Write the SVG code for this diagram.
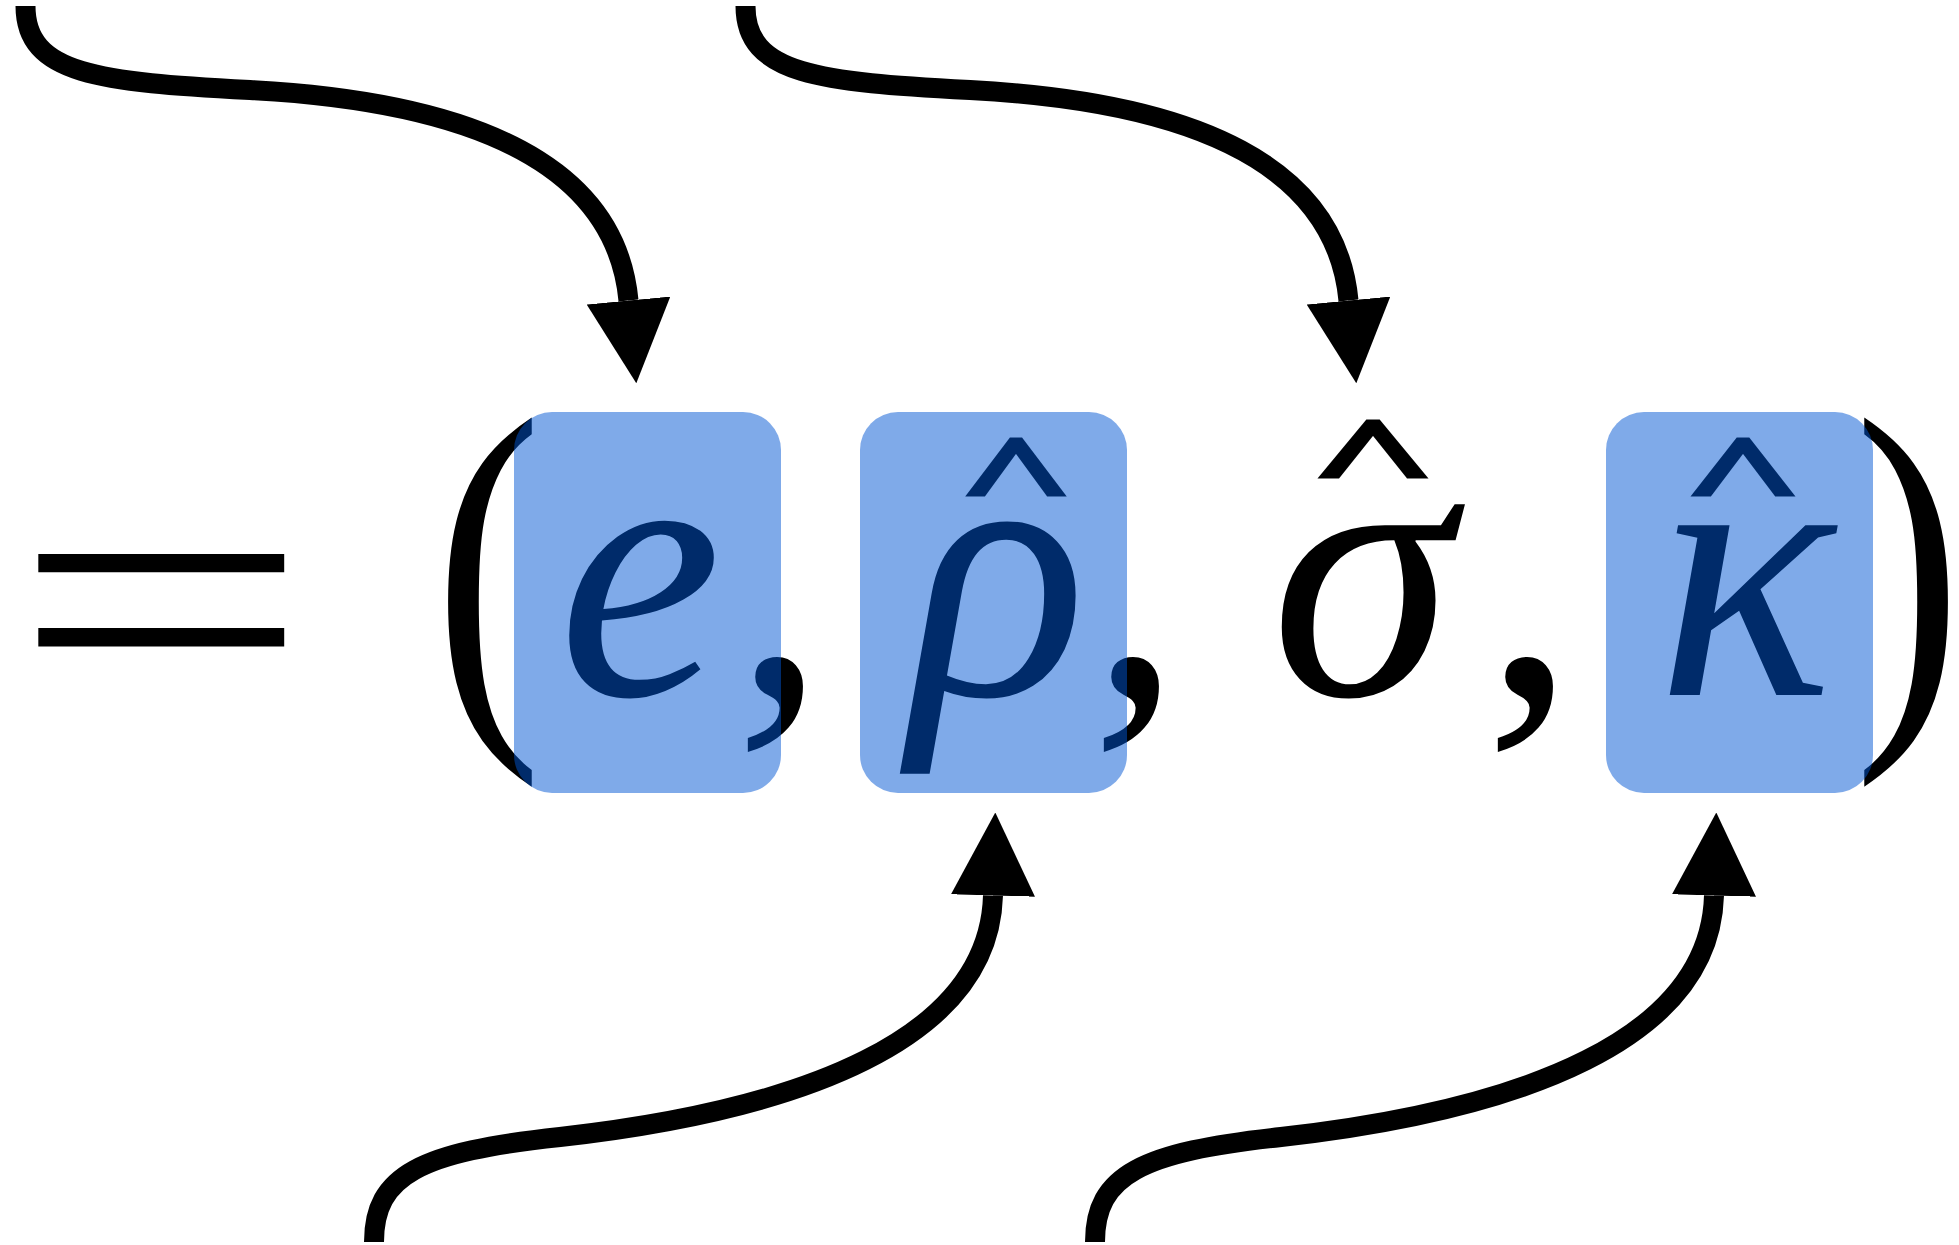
<svg xmlns="http://www.w3.org/2000/svg" width="1959" height="1245" viewBox="0 0 1959 1245">
<style>
.bg{fill:#ffffff}
.m{font-family:"Liberation Serif","Times New Roman",serif;font-size:370px;fill:#000;text-anchor:middle}
.it{font-style:italic}
.par{font-family:"Liberation Serif","Times New Roman",serif;font-size:407px;fill:#000;text-anchor:middle}
.hat{font-family:"Liberation Serif","Times New Roman",serif;font-size:121px;font-style:normal;font-weight:bold;fill:#000;stroke:#000;stroke-width:3;text-anchor:middle}
.box{fill:#0055d4;fill-opacity:0.5}
.arr{fill:none;stroke:#000;stroke-width:20;stroke-linecap:butt}
</style>
<defs>
<marker id="head" viewBox="0 0 83 84" refX="0" refY="42" markerWidth="83" markerHeight="84" markerUnits="userSpaceOnUse" orient="auto">
<path d="M0,0 L83,42 L0,84 z" fill="#000"/>
</marker>
</defs>
<rect class="bg" x="0" y="0" width="1959" height="1245"/>
<g id="connectors">
<path class="arr" marker-end="url(#head)" d="M25.5,6 C25.5,75 100,82 250,90 C480,102 616,168 628.5,300.5"/>
<path class="arr" marker-end="url(#head)" d="M745.5,6 C745.5,75 820,82 970,90 C1200,102 1336,168 1348.5,300.5"/>
<path class="arr" marker-end="url(#head)" d="M374,1242 C374,1175 420,1152 560,1137 C800,1110 989,1040 993,895.5"/>
<path class="arr" marker-end="url(#head)" d="M1095,1242 C1095,1175 1141,1152 1281,1137 C1521,1110 1710,1040 1714,895.5"/>
</g>
<g id="equation">
<text class="m" x="161" y="723" textLength="298" lengthAdjust="spacingAndGlyphs">=</text>
<text class="par" transform="translate(488,700) scale(0.8,1)" x="0" y="0">(</text>
<text class="m" x="780" y="695">,</text>
<text class="m" x="1136" y="695">,</text>
<text class="m" x="1530" y="695">,</text>
<text class="par" transform="translate(1908,700) scale(0.8,1)" x="0" y="0">)</text>
</g>
<g id="sigma-hat">
<text class="m it" x="1362" y="695">σ<tspan class="hat" x="1373" y="500" textLength="129" lengthAdjust="spacingAndGlyphs">^</tspan></text>
</g>
<g id="node-e">
<text class="m it" x="640" y="695">e</text>
<rect class="box" x="514" y="412" width="267" height="381" rx="38"/>
</g>
<g id="node-rho">
<text class="m it" x="998" y="695">ρ<tspan class="hat" x="1016" y="518" textLength="118" lengthAdjust="spacingAndGlyphs">^</tspan></text>
<rect class="box" x="860" y="412" width="267" height="381" rx="38"/>
</g>
<g id="node-kappa">
<text class="m it" x="1745" y="695">κ<tspan class="hat" x="1743" y="518" textLength="122" lengthAdjust="spacingAndGlyphs">^</tspan></text>
<rect class="box" x="1606" y="412" width="267" height="381" rx="38"/>
</g>
</svg>
